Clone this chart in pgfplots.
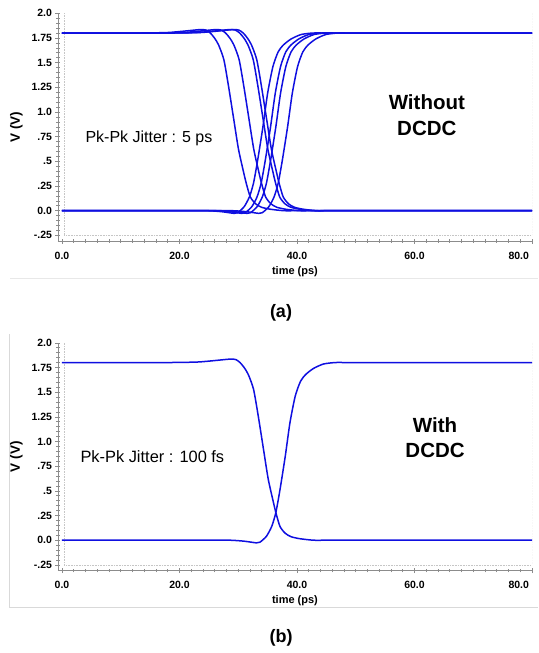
\documentclass[border=0pt]{standalone}
\usepackage{pgfplots}
\pgfplotsset{compat=1.18}
\usepackage{fontspec}
\setmainfont{Liberation Sans}
\definecolor{trace}{HTML}{0F0FE0}
\definecolor{axgray}{HTML}{8C8C8C}

\pgfplotsset{
  scope/.style={
    scale only axis, width=474pt, height=227.7pt,
    xmin=-0.68, xmax=80, ymin=-0.307, ymax=2.0,
    axis x line*=bottom, axis y line*=left,
    axis line style={axgray, line width=0.8pt},
    xtick={0,20,40,60,80},
    xticklabels={0.0,20.0,40.0,60.0,\makebox[0pt][r]{80.0\kern3pt}},
    minor x tick num=9,
    ytick={-0.25,0,0.25,0.5,0.75,1,1.25,1.5,1.75,2},
    yticklabels={-.25,0.0,.25,.5,.75,1.0,1.25,1.5,1.75,2.0},
    minor y tick num=4,
    tick align=center,
    major tick length=5pt, minor tick length=3.5pt,
    every tick/.style={axgray, line width=0.6pt},
    ticklabel style={font=\fontsize{10.5}{12}\selectfont\bfseries},
    xticklabel style={yshift=-5pt},
    xlabel={time (ps)},
    xlabel style={font=\fontsize{11}{13}\selectfont\bfseries},
    ylabel={V (V)},
    ylabel style={font=\fontsize{13.5}{15}\selectfont\bfseries, yshift=2pt},
    no markers,
    every axis plot post/.append style={trace, line width=1.5pt, solid, smooth, tension=0.4},
  }
}

\begin{document}
\begin{tikzpicture}
\path[use as bounding box] (0,0) rectangle (538pt,-653pt);

% window frame lines
\draw[gray!18, line width=0.8pt] (10pt,-278pt) -- (538pt,-278pt);
\draw[gray!30, line width=0.8pt] (9.5pt,-334pt) -- (9.5pt,-607pt) -- (538pt,-607pt);

% (a) without DCDC
\begin{axis}[scope, at={(58pt,-241pt)}, anchor=south west]
\draw[gray!45, densely dotted, line width=0.6pt] (axis cs:0.34,2.0) -- (axis cs:0.34,-0.25) -- (axis cs:80,-0.25) -- (axis cs:80,2.0);
% falling edges
\addplot coordinates {(0,1.8) (4,1.8) (8,1.8) (12.9,1.8) (17.9,1.805) (20.9,1.82) (23.5,1.835) (24.5,1.83) (25.25,1.8) (25.95,1.75) (26.65,1.68) (27.55,1.53) (28.35,1.26) (29.25,0.92) (30.05,0.62) (30.95,0.38) (31.35,0.28) (32.05,0.14) (32.95,0.07) (33.95,0.035) (35.45,0.015) (37.75,0) (40,0) (45,0) (55,0) (80,0)};
\addplot coordinates {(0,1.8) (5,1.8) (10,1.8) (15.5,1.8) (20.5,1.805) (23.5,1.82) (26.1,1.835) (27.1,1.83) (27.85,1.8) (28.55,1.75) (29.25,1.68) (30.15,1.53) (30.95,1.26) (31.85,0.92) (32.65,0.62) (33.55,0.38) (33.95,0.28) (34.65,0.14) (35.55,0.07) (36.55,0.035) (38.05,0.015) (40.35,0) (42.5,0) (47,0) (57,0) (80,0)};
\addplot coordinates {(0,1.8) (6,1.8) (12,1.8) (17.9,1.8) (22.9,1.805) (25.9,1.82) (28.5,1.835) (29.5,1.83) (30.25,1.8) (30.95,1.75) (31.65,1.68) (32.55,1.53) (33.35,1.26) (34.25,0.92) (35.05,0.62) (35.95,0.38) (36.35,0.28) (37.05,0.14) (37.95,0.07) (38.95,0.035) (40.45,0.015) (42.75,0) (45,0) (50,0) (60,0) (80,0)};
\addplot coordinates {(0,1.8) (6,1.8) (12,1.8) (18.5,1.8) (23.5,1.805) (26.5,1.82) (29.1,1.835) (30.1,1.83) (30.85,1.8) (31.55,1.75) (32.25,1.68) (33.15,1.53) (33.95,1.26) (34.85,0.92) (35.65,0.62) (36.55,0.38) (36.95,0.28) (37.65,0.14) (38.55,0.07) (39.55,0.035) (41.05,0.015) (43.35,0) (45.5,0) (50,0) (60,0) (80,0)};
% rising edges
\addplot coordinates {(0,0) (8,0) (16,0) (21,0) (24.8,0) (27.2,-0.01) (29.3,-0.027) (29.9,-0.02) (31.0,0.04) (31.9,0.14) (32.6,0.28) (33.3,0.51) (34.2,0.85) (35.0,1.19) (35.9,1.46) (36.8,1.61) (37.7,1.68) (39.0,1.74) (40.7,1.785) (42.7,1.8) (45,1.8) (50,1.8) (60,1.8) (80,1.8)};
\addplot coordinates {(0,0) (8,0) (16,0) (22,0) (26.1,0) (28.5,-0.01) (30.6,-0.027) (31.2,-0.02) (32.3,0.04) (33.2,0.14) (33.9,0.28) (34.6,0.51) (35.5,0.85) (36.3,1.19) (37.2,1.46) (38.1,1.61) (39.0,1.68) (40.3,1.74) (42.0,1.785) (44.0,1.8) (46,1.8) (51,1.8) (61,1.8) (80,1.8)};
\addplot coordinates {(0,0) (8,0) (16,0) (23,0) (27.0,0) (29.4,-0.01) (31.5,-0.027) (32.1,-0.02) (33.2,0.04) (34.1,0.14) (34.8,0.28) (35.5,0.51) (36.4,0.85) (37.2,1.19) (38.1,1.46) (39.0,1.61) (39.9,1.68) (41.2,1.74) (42.9,1.785) (44.9,1.8) (47,1.8) (52,1.8) (62,1.8) (80,1.8)};
\addplot coordinates {(0,0) (8,0) (16,0) (25,0) (29.0,0) (31.4,-0.01) (33.5,-0.027) (34.1,-0.02) (35.2,0.04) (36.1,0.14) (36.8,0.28) (37.5,0.51) (38.4,0.85) (39.2,1.19) (40.1,1.46) (41.0,1.61) (41.9,1.68) (43.2,1.74) (44.9,1.785) (46.9,1.8) (49,1.8) (54,1.8) (64,1.8) (80,1.8)};
\node[anchor=west, font=\fontsize{16}{18}\selectfont] at (axis cs:3.4,0.737) {Pk-Pk Jitter : 5 ps};
\node[align=center, font=\fontsize{20.5}{26}\selectfont\bfseries] at (axis cs:62.1,0.97) {Without\\DCDC};
\end{axis}

% (b) with DCDC
\begin{axis}[scope, at={(58pt,-570.5pt)}, anchor=south west]
\draw[gray!45, densely dotted, line width=0.6pt] (axis cs:0.34,2.0) -- (axis cs:0.34,-0.25) -- (axis cs:80,-0.25) -- (axis cs:80,2.0);
\addplot coordinates {(0,1.8) (6,1.8) (12,1.8) (18,1.8) (23,1.805) (26,1.82) (28.6,1.835) (29.6,1.83) (30.3,1.8) (31.0,1.75) (31.7,1.68) (32.6,1.53) (33.4,1.26) (34.3,0.92) (35.1,0.62) (36.0,0.38) (36.4,0.28) (37.1,0.14) (38.0,0.07) (39.0,0.035) (40.5,0.015) (42.8,0) (45,0) (50,0) (60,0) (80,0)};
\addplot coordinates {(0,0) (8,0) (16,0) (24,0) (28.6,0) (31.0,-0.01) (33.1,-0.027) (33.7,-0.02) (34.8,0.04) (35.7,0.14) (36.4,0.28) (37.1,0.51) (38.0,0.85) (38.8,1.19) (39.7,1.46) (40.6,1.61) (41.5,1.68) (42.8,1.74) (44.5,1.785) (46.5,1.8) (48.5,1.8) (53,1.8) (63,1.8) (80,1.8)};
\node[anchor=west, font=\fontsize{16.4}{18}\selectfont] at (axis cs:2.55,0.848) {Pk-Pk Jitter : 100 fs};
\node[align=center, font=\fontsize{20.5}{25}\selectfont\bfseries] at (axis cs:63.5,1.035) {With\\DCDC};
\end{axis}

\node[font=\fontsize{18}{20}\selectfont\bfseries] at (281pt,-313pt) {(a)};
\node[font=\fontsize{18}{20}\selectfont\bfseries] at (281pt,-638pt) {(b)};
\end{tikzpicture}
\end{document}
